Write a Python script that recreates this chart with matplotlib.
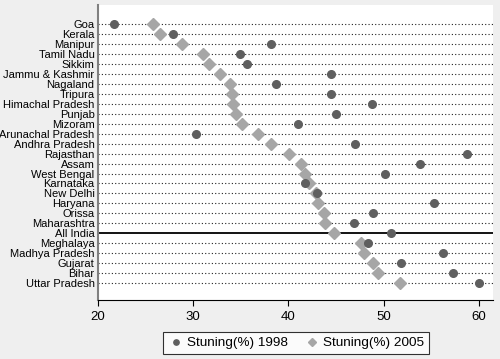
import numpy as np
from matplotlib import pyplot as plt

plt.rcParams['font.family'] = ['Liberation Sans', 'DejaVu Sans']

# Data
states = ['Goa', 'Kerala', 'Manipur', 'Tamil Nadu', 'Sikkim', 'Jammu & Kashmir',
          'Nagaland', 'Tripura', 'Himachal Pradesh', 'Punjab', 'Mizoram',
          'Arunachal Pradesh', 'Andhra Pradesh', 'Rajasthan', 'Assam',
          'West Bengal', 'Karnataka', 'New Delhi', 'Haryana', 'Orissa',
          'Maharashtra', 'All India', 'Meghalaya', 'Madhya Pradesh', 'Gujarat',
          'Bihar', 'Uttar Pradesh']
stunt_1998 = [21.7, 27.9, 38.2, 34.9, 35.7, 44.5, 38.7, 44.5, 48.8, 45.0, 41.0,
              30.3, 47.0, 58.8, 53.8, 50.2, 41.8, 43.0, 55.3, 48.9, 46.9, 50.8,
              48.4, 56.2, 51.8, 57.3, 60.0]
stunt_2005 = [25.8, 26.5, 28.8, 31.0, 31.7, 32.8, 33.9, 34.1, 34.2, 34.5, 35.1,
              36.8, 38.2, 40.1, 41.3, 41.7, 42.2, 42.9, 43.1, 43.7, 43.8, 44.8,
              47.6, 47.9, 48.9, 49.4, 51.7]
xticks = [20, 30, 40, 50, 60]

ypos = np.arange(len(states))

fig = plt.figure(figsize=(5, 3.59), dpi=100, facecolor='#efefef')
ax = fig.add_axes([0.196, 0.164, 0.79, 0.822])

# Dotted guide lines, solid line for All India
for i, s in enumerate(states):
    if s == 'All India':
        ax.axhline(i, color='black', lw=1.3, zorder=1)
    else:
        ax.axhline(i, color='#222222', lw=0.8, ls=(0, (1, 2)), zorder=1)

ax.plot(stunt_2005, ypos, 'D', color='#a6a6a6', ms=6, mec='#a6a6a6', zorder=2,
        label='Stuning(%) 2005')
ax.plot(stunt_1998, ypos, 'o', color='#5f5f5f', ms=5.5, zorder=3,
        label='Stuning(%) 1998')

ax.set_xlim(20, 61.5)
ax.set_ylim(len(states) - 1 + 1.7, -1.9)
ax.set_xticks(xticks)
ax.set_yticks(ypos)
ax.set_yticklabels(states, fontsize=8.0)
ax.tick_params(axis='y', length=0, pad=2.5)
ax.tick_params(axis='x', labelsize=9.5, length=4, direction='out')
ax.spines['top'].set_visible(False)
ax.spines['right'].set_visible(False)
ax.spines['left'].set_color('#808080')
ax.spines['left'].set_linewidth(1.5)

handles, labels = ax.get_legend_handles_labels()
leg = fig.legend(handles[::-1], labels[::-1], loc='center', bbox_to_anchor=(0.592, 0.044),
                 ncol=2, fontsize=9.7, frameon=True, fancybox=False, edgecolor='black',
                 handletextpad=0.2, columnspacing=1.2, borderpad=0.35, handlelength=1.2,
                 markerscale=0.7)
leg.get_frame().set_linewidth(0.8)

plt.savefig('out.png', dpi=100, facecolor=fig.get_facecolor())
